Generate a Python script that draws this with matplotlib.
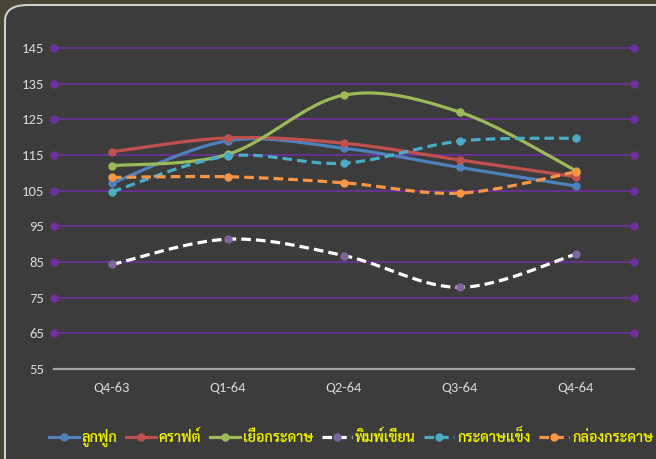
import numpy as np
import matplotlib
matplotlib.use("Agg")
import matplotlib.pyplot as plt
from matplotlib import font_manager
from matplotlib.lines import Line2D
from matplotlib.patches import FancyBboxPatch

# ข้อมูล (ค่าดัชนีรายไตรมาส)
quarters = ["Q4-63", "Q1-64", "Q2-64", "Q3-64", "Q4-64"]
luk_fuk = [107.1, 119.0, 116.9, 111.5, 106.3]
kraft = [115.9, 119.8, 118.3, 113.6, 108.9]
yuea_kradat = [112.0, 115.2, 131.8, 127.0, 110.6]
phim_khian = [84.3, 91.4, 86.8, 77.9, 87.2]
kradat_khaeng = [104.7, 114.7, 112.7, 118.9, 119.7]
klong_kradat = [108.7, 108.9, 107.2, 104.3, 110.3]
series_names = ["ลูกฟูก", "คราฟต์", "เยื่อกระดาษ", "พิมพ์เขียน", "กระดาษแข็ง", "กล่องกระดาษ"]
y_ticks = [55, 65, 75, 85, 95, 105, 115, 125, 135, 145]

installed = set(f.name for f in font_manager.fontManager.ttflist)

def pick(cands):
    for c in cands:
        if c in installed:
            return c
    return "DejaVu Sans"

num_font = pick(["Liberation Sans Narrow", "Carlito", "Roboto Condensed", "DejaVu Sans"])
thai_font = pick(["Sarabun", "Noto Sans Thai Looped", "Noto Sans Thai", "Athiti", "Bai Jamjuree"])


def smooth(x, y, n=40):
    # เส้นโค้งแบบ Excel (Catmull-Rom -> Bezier)
    p = np.column_stack([x, y]).astype(float)
    p = np.vstack([p[0], p, p[-1]])
    xs, ys = [], []
    t = np.linspace(0, 1, n)
    for i in range(1, len(p) - 2):
        p0, p3 = p[i], p[i + 1]
        c1 = p0 + (p[i + 1] - p[i - 1]) / 6
        c2 = p3 - (p[i + 2] - p[i]) / 6
        b = ((1 - t) ** 3)[:, None] * p0 + (3 * (1 - t) ** 2 * t)[:, None] * c1 \
            + (3 * (1 - t) * t ** 2)[:, None] * c2 + (t ** 3)[:, None] * p3
        xs.extend(b[:, 0]); ys.extend(b[:, 1])
    return xs, ys


bg = "#3c3c3c"
fig = plt.figure(figsize=(6.56, 4.59), dpi=100, facecolor="#4a4636")
frame = FancyBboxPatch((5 / 656, -0.2), 1.2, 1.2 - 5 / 459, boxstyle="round,pad=0,rounding_size=0.035",
                       transform=fig.transFigure, facecolor=bg, edgecolor="#d0d0c8", lw=1.5, zorder=-10)
fig.patches.append(frame)

ax = fig.add_axes([54 / 656, 1 - 369 / 459, 580 / 656, 321 / 459])
ax.set_facecolor("none")

x = np.arange(len(quarters)) + 0.5
grid_c = "#7030a0"
for v in y_ticks[1:]:
    ax.plot([0, 5], [v, v], color=grid_c, lw=1.2, marker="o", ms=5, clip_on=False, zorder=1)

styles = [
    (luk_fuk, "#4f81bd", "#4f81bd", "-"),
    (kraft, "#c0504d", "#c0504d", "-"),
    (yuea_kradat, "#9bbb59", "#9bbb59", "-"),
    (phim_khian, "#ffffff", "#8064a2", (0, (3, 1.6))),
    (kradat_khaeng, "#4bacc6", "#4bacc6", (0, (3, 1.6))),
    (klong_kradat, "#f79646", "#f79646", (0, (3, 1.6))),
]
handles = []
for (vals, lc, mc, ls), name in zip(styles, series_names):
    sx, sy = smooth(x, vals)
    ax.plot(sx, sy, color=lc, lw=2.3, ls=ls, zorder=3)
    ax.plot(x, vals, ls="none", marker="o", ms=5, color=mc, zorder=4)
    handles.append(Line2D([0], [0], color=lc, lw=2.3, ls=ls, marker="o", ms=5,
                          markerfacecolor=mc, markeredgecolor=mc, label=name))

ax.set_xlim(0, 5)
ax.set_ylim(55, 145)
ax.set_xticks(x)
ax.set_xticklabels(quarters)
ax.set_yticks(y_ticks)
for s in ["top", "right", "left"]:
    ax.spines[s].set_visible(False)
ax.spines["bottom"].set_color("#a6a6a6")
ax.spines["bottom"].set_linewidth(1.6)
ax.tick_params(length=0, colors="#d9d9d9", labelsize=10.5)
ax.tick_params(axis="x", pad=9)
ax.tick_params(axis="y", pad=7)
for lab in ax.get_xticklabels() + ax.get_yticklabels():
    lab.set_fontfamily(num_font)

fig.legend(handles=handles, loc="center", bbox_to_anchor=(0.535, 1 - 438 / 459), ncol=6,
           frameon=False, handlelength=2.1, handletextpad=0.2, columnspacing=0.6,
           prop={"family": [thai_font, "DejaVu Sans"], "size": 10.3, "weight": "semibold"},
           labelcolor="#f0f000")

fig.savefig("out.png", dpi=100, facecolor=fig.get_facecolor())
